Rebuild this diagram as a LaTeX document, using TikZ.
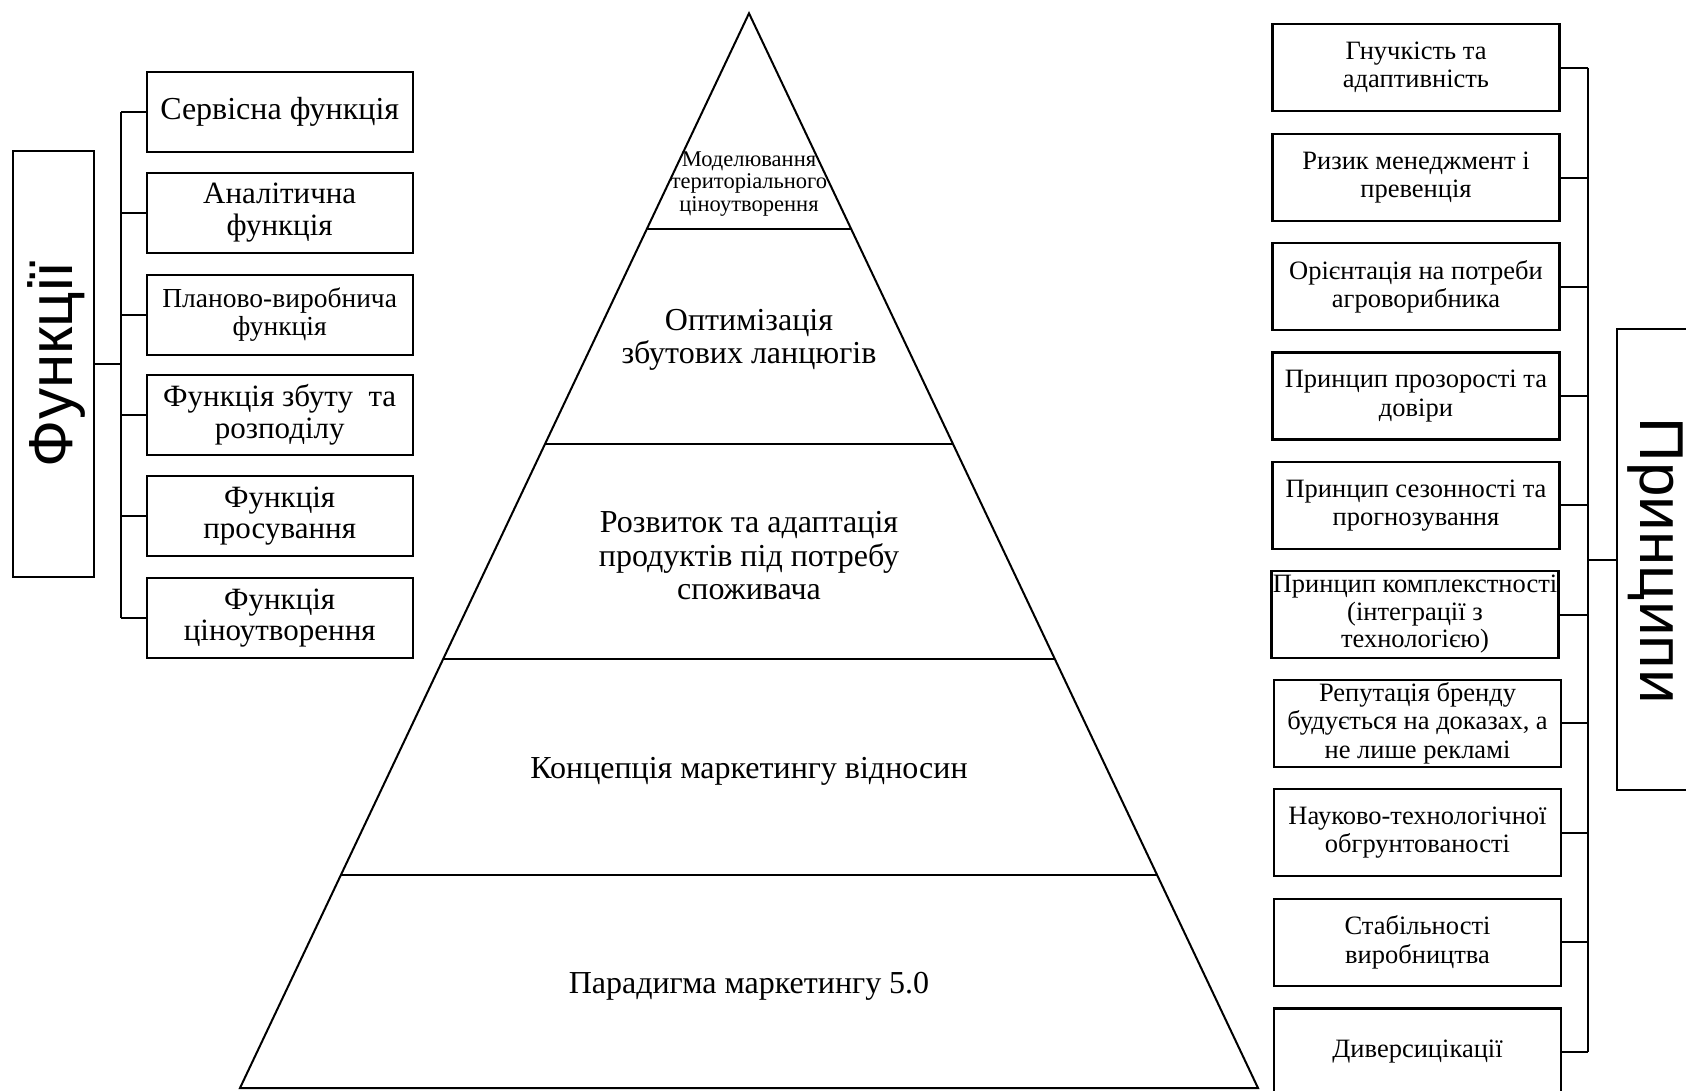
\documentclass[tikz,border=0pt]{standalone}
\usepackage{fontspec}
\setmainfont{Liberation Serif}
\newfontfamily\sansfnt{Liberation Sans}
\usetikzlibrary{calc}
\begin{document}
\begin{tikzpicture}[x=1pt,y=-1pt,
 lbox/.style={draw,line width=2.2pt,minimum width=266pt,minimum height=80pt,inner sep=0pt,align=center,font=\fontsize{31}{31.7}\selectfont},
 rbox/.style={draw,line width=2.2pt,minimum width=287pt,minimum height=87pt,inner sep=0pt,align=center,font=\fontsize{26.5}{28.3}\selectfont},
 conn/.style={line width=2pt},
 pyr/.style={line width=2pt},
 ptext/.style={align=center,font=\fontsize{32}{33.5}\selectfont},
 big/.style={font=\sansfnt\fontsize{62}{70}\selectfont,inner sep=0pt},
 tall/.style={draw,line width=2.2pt,inner sep=0pt}
]
\useasboundingbox (0,0) rectangle (1686,1090);
\clip (0,0) rectangle (1686,1090);

% ---------- left: functions ----------
\node[tall,minimum width=81pt,minimum height=426pt] (fbox) at (53.3,364) {};
\node[big,rotate=90,anchor=base] (ftext) at (72,364) {Функції};

\node[lbox,font=\fontsize{32}{31.7}\selectfont] (f1) at (279.7,111.7) {\raisebox{-3pt}{Сервісна функція}};
\node[lbox] (f2) at (279.7,212.7) {Аналітична\\функція};
\node[lbox,font=\fontsize{27.5}{28.7}\selectfont] (f3) at (279.7,314.7) {Планово-виробнича\\функція};
\node[lbox] (f4) at (279.7,415) {Функція збуту~~та\\розподілу};
\node[lbox] (f5) at (279.7,516) {Функція\\просування};
\node[lbox] (f6) at (279.7,618) {Функція\\ціноутворення};

\coordinate (lsp) at (120.7,364);
\draw[conn] (fbox.east) -- (fbox.east -| lsp);
\draw[conn] (f1.west -| lsp) -- (f6.west -| lsp);
\foreach \i in {1,...,6} \draw[conn] (f\i.west) -- (f\i.west -| lsp);

% ---------- pyramid ----------
\coordinate (apex) at (749,13.3);
\coordinate (bl) at (240,1088);
\coordinate (br) at (1258,1088);
\draw[pyr,line join=miter] (apex) -- (bl) -- (br) -- cycle;
\foreach \t in {0.2007,0.4007,0.6007,0.8015}
  \draw[pyr] ($(apex)!\t!(bl)$) -- ($(apex)!\t!(br)$);

\node[align=center,font=\fontsize{22.5}{22.5}\selectfont,inner sep=0pt] (p1) at (749,184) {Моделювання\\територіального\\ціноутворення};
\node[ptext] (p2) at (749,340) {Оптимізація\\збутових ланцюгів};
\node[ptext] (p3) at (749,556) {Розвиток та адаптація\\продуктів під потребу\\споживача};
\node[ptext] (p4) at (749,771) {Концепція маркетингу відносин};
\node[ptext] (p5) at (749,986) {Парадигма маркетингу 5.0};

% ---------- right: principles ----------
\node[rbox] (r1) at (1416,67.5) {Гнучкість та\\адаптивність};
\node[rbox] (r2) at (1416,177.5) {Ризик менеджмент і\\превенція};
\node[rbox] (r3) at (1416,286.7) {Орієнтація на потреби\\агроворибника};
\node[rbox] (r4) at (1416,396) {Принцип прозорості та\\довіри};
\node[rbox] (r5) at (1416,505.3) {Принцип сезонності та\\прогнозування};
\node[rbox,font=\fontsize{26.5}{27.5}\selectfont] (r6) at (1415,614.5) {Принцип комплекстності\\(інтеграції з\\технологією)};
\node[rbox] (r7) at (1417.5,723.3) {Репутація бренду\\будується на доказах, а\\не лише рекламі};
\node[rbox] (r8) at (1417.5,832.8) {Науково-технологічної\\обгрунтованості};
\node[rbox] (r9) at (1417.5,942.2) {Стабільності\\виробництва};
\node[rbox] (r10) at (1417.5,1052) {Диверсицікації};

\node[tall,minimum width=120pt,minimum height=461pt] (pbox) at (1676.7,559.5) {};
\node[big,rotate=-90,anchor=base] (ptxt) at (1640,561) {Принципи};

\coordinate (rsp) at (1588.3,560);
\draw[conn] (pbox.west) -- (pbox.west -| rsp);
\draw[conn] (r1.east -| rsp) -- (r10.east -| rsp);
\foreach \i in {1,...,10} \draw[conn] (r\i.east) -- (r\i.east -| rsp);
\end{tikzpicture}
\end{document}
